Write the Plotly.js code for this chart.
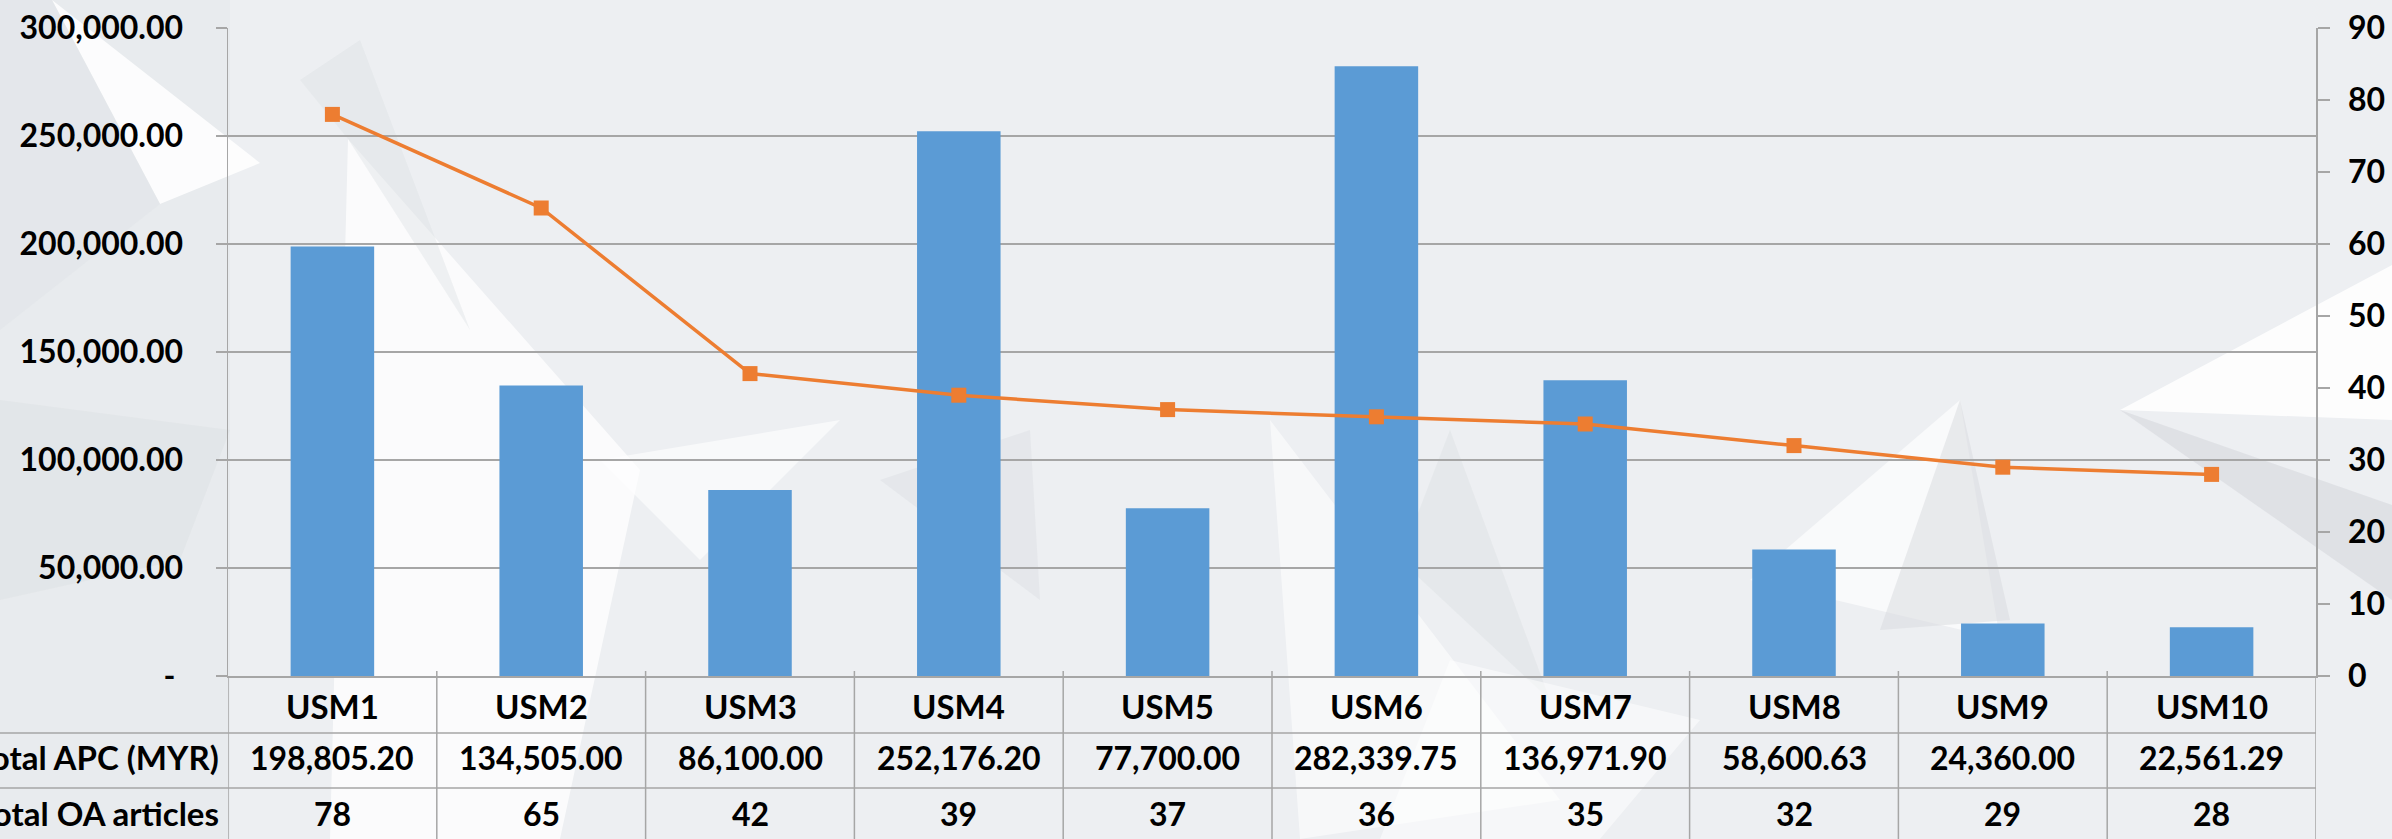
<!DOCTYPE html>
<html>
<head>
<meta charset="utf-8">
<script src="https://cdn.plot.ly/plotly-3.0.1.min.js"></script>
<style>
html,body{margin:0;padding:0;background:#eaedf0;}
#chart{width:2392px;height:839px;}
</style>
</head>
<body>
<div id="chart"></div>
<script>
// ---- data ----
const categories = ["USM1","USM2","USM3","USM4","USM5","USM6","USM7","USM8","USM9","USM10"];
const totalAPC = [198805.20, 134505.00, 86100.00, 252176.20, 77700.00, 282339.75, 136971.90, 58600.63, 24360.00, 22561.29];
const totalArticles = [78, 65, 42, 39, 37, 36, 35, 32, 29, 28];
const rowLabels = ["Total APC (MYR)", "Total OA articles"];
const leftTickVals = [0, 50000, 100000, 150000, 200000, 250000, 300000];
const leftTickText = ["-\u00a0", "50,000.00", "100,000.00", "150,000.00", "200,000.00", "250,000.00", "300,000.00"];
const rightTickVals = [0, 10, 20, 30, 40, 50, 60, 70, 80, 90];

// ---- geometry (pixels) ----
const W = 2392, H = 839;
const L = 228, R = 2316, T = 28, B = 676;
const PW = R - L, PH = B - T;
const py = p => (B - p) / PH;      // pixel y -> paper y
const px = p => (p - L) / PW;      // pixel x -> paper x

const gridCol = '#a6a6a6';
const font = {family: 'Lato, "Open Sans", sans-serif', size: 32, color: '#000', weight: 700};
const tfont = {family: 'Lato, "Open Sans", sans-serif', size: 32, color: '#000', weight: 700};
const hfont = {family: 'Lato, "Open Sans", sans-serif', size: 33, color: '#000', weight: 700};

const fmt = v => v.toLocaleString('en-US', {minimumFractionDigits: 2, maximumFractionDigits: 2});

const traces = [
  {
    type: 'bar', x: categories, y: totalAPC, name: 'Total APC (MYR)',
    marker: {color: '#5B9BD5', line: {width: 0}}, width: 0.4, yaxis: 'y', hoverinfo: 'x+y'
  },
  {
    type: 'scatter', mode: 'lines+markers', x: categories, y: totalArticles, name: 'Total OA articles',
    yaxis: 'y2', line: {color: '#ED7D31', width: 3.5},
    marker: {symbol: 'square', size: 15, color: '#ED7D31'}
  }
];

// ---- background decoration (paper coords from pixel coords) ----
function poly(pts, fill, op) {
  const d = 'M ' + pts.map(p => px(p[0]) + ' ' + py(p[1])).join(' L ') + ' Z';
  return {type: 'path', xref: 'paper', yref: 'paper', path: d, fillcolor: fill, opacity: op, line: {width: 0}, layer: 'below'};
}
const shapes = [
  poly([[230,0],[2392,0],[2392,839],[230,839]], '#f1f3f5', 0.55),
  poly([[52,0],[260,163],[160,204]], '#ffffff', 0.85),
  poly([[0,0],[52,0],[160,204],[0,330]], '#e0e4e8', 0.5),
  poly([[348,139],[640,470],[560,839],[330,839]], '#ffffff', 0.75),
  poly([[300,80],[360,40],[470,330],[348,139]], '#dde0e4', 0.4),
  poly([[0,400],[230,430],[180,560],[0,600]], '#dcdfe3', 0.45),
  poly([[600,460],[840,420],[700,560]], '#ffffff', 0.6),
  poly([[880,480],[1030,430],[1040,600]], '#dadde1', 0.4),
  poly([[1270,420],[1560,800],[1300,839]], '#ffffff', 0.55),
  poly([[1400,560],[1450,430],[1550,700]], '#dcdfe3', 0.45),
  poly([[1750,580],[1960,400],[2000,639]], '#ffffff', 0.65),
  poly([[1960,400],[2010,620],[1880,630]], '#d7dade', 0.5),
  poly([[2120,410],[2392,265],[2392,420]], '#ffffff', 0.85),
  poly([[2120,410],[2392,505],[2392,600]], '#d3d6da', 0.55),
  poly([[1450,660],[1700,720],[1600,839],[1380,839]], '#ffffff', 0.5)
];

// table lines
const yBot = py(H + 5), yTopTick = py(B - 5);
for (let i = 0; i <= categories.length; i++) {
  shapes.push({type: 'line', xref: 'x', yref: 'paper', x0: i - 0.5, x1: i - 0.5, y0: yBot, y1: i === 0 || i === categories.length ? 0 : yTopTick,
    line: {color: gridCol, width: 1.5}, layer: 'above'});
}
[733, 788].forEach(p => shapes.push({type: 'line', xref: 'paper', yref: 'paper', x0: px(0), x1: 1, y0: py(p), y1: py(p),
  line: {color: gridCol, width: 1.5}, layer: 'above'}));

// table text
const annotations = [];
const rowY = [py(706), py(757), py(813)];
categories.forEach((c, i) => {
  annotations.push({xref: 'x', yref: 'paper', x: c, y: rowY[0], text: c, showarrow: false, font: hfont, xanchor: 'center', yanchor: 'middle'});
  annotations.push({xref: 'x', yref: 'paper', x: c, y: rowY[1], text: fmt(totalAPC[i]), showarrow: false, font: tfont, xanchor: 'center', yanchor: 'middle'});
  annotations.push({xref: 'x', yref: 'paper', x: c, y: rowY[2], text: String(totalArticles[i]), showarrow: false, font: tfont, xanchor: 'center', yanchor: 'middle'});
});
rowLabels.forEach((t, j) => {
  annotations.push({xref: 'paper', yref: 'paper', x: px(221), y: rowY[j + 1], text: t, showarrow: false, font: hfont, xanchor: 'right', yanchor: 'middle'});
});

const layout = {
  width: W, height: H,
  margin: {l: L, r: W - R, t: T, b: H - B, pad: 0},
  paper_bgcolor: '#e8ebee', plot_bgcolor: 'rgba(0,0,0,0)',
  showlegend: false,
  font: font,
  xaxis: {type: 'category', range: [-0.5, 9.5], showticklabels: false, showgrid: false, zeroline: false,
    showline: true, linecolor: gridCol, linewidth: 1.5, ticks: '', fixedrange: true},
  yaxis: {range: [0, 300000], tickvals: leftTickVals, ticktext: leftTickText, tickfont: font,
    showgrid: true, gridcolor: gridCol, gridwidth: 1.5, zeroline: false,
    showline: true, linecolor: gridCol, linewidth: 1.5,
    ticks: 'outside', ticklen: 11, tickcolor: gridCol, tickwidth: 1.5, ticklabelstandoff: 26},
  yaxis2: {range: [0, 90], tickvals: rightTickVals, overlaying: 'y', side: 'right', tickfont: font,
    showgrid: false, zeroline: false, showline: true, linecolor: gridCol, linewidth: 1.5,
    ticks: 'outside', ticklen: 12, tickcolor: gridCol, tickwidth: 1.5, ticklabelstandoff: 12},
  shapes: shapes,
  annotations: annotations
};

Plotly.newPlot('chart', traces, layout, {displayModeBar: false, staticPlot: true});
</script>
</body>
</html>
